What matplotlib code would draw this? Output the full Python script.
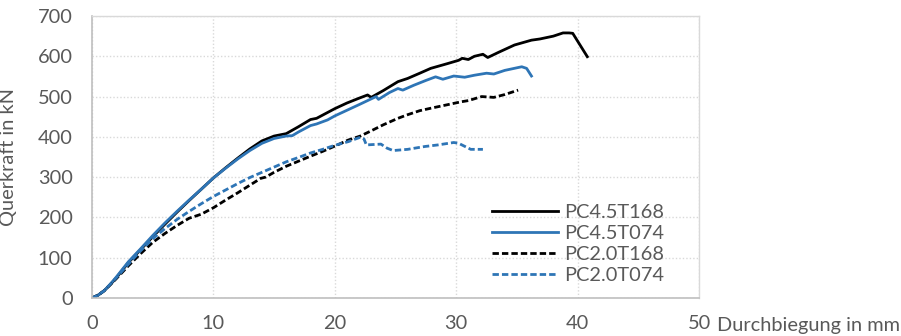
import numpy as np
import matplotlib
matplotlib.use("Agg")
import matplotlib.pyplot as plt

# --- data (deflection mm, shear force kN) ---
pc45t168_x = [0, 0.5, 1, 1.5, 2, 3, 4, 5, 6, 7, 8, 9, 10, 11, 12, 13, 14, 15, 15.5, 16,
              17, 18, 18.5, 19, 20, 21, 22, 22.7, 23.0, 24, 25.2, 26, 27, 27.9, 29.3, 30.2,
              30.5, 31, 31.5, 32.2, 32.6, 33.5, 34.8, 36.2, 36.9, 38, 38.8, 39.3, 39.6, 40.8]
pc45t168_y = [0, 7, 18, 33, 50, 88, 120, 152, 183, 213, 242, 270, 298, 323, 347, 370, 390, 402, 405, 408,
              425, 443, 446, 454, 470, 484, 496, 504, 498, 515, 537, 545, 558, 570, 582, 590,
              595, 592, 600, 605, 597, 610, 628, 640, 643, 650, 658, 658, 657, 599]

pc45t074_x = [0, 0.5, 1, 1.5, 2, 3, 4, 5, 6, 7, 8, 9, 10, 11, 12, 13, 14, 15, 16, 16.5,
              17, 18, 18.5, 19.4, 20, 21, 22, 23.4, 23.6, 24.5, 25.2, 25.6, 26.5, 27.5, 28.3,
              28.9, 29.8, 30.7, 31.5, 32.5, 33.1, 34, 35.4, 35.8, 36.2]
pc45t074_y = [0, 7, 18, 34, 52, 90, 122, 155, 186, 215, 243, 270, 298, 322, 345, 366, 384, 396, 402, 403,
              412, 428, 432, 442, 452, 466, 480, 500, 493, 510, 520, 516, 528, 540, 549,
              543, 551, 548, 553, 558, 556, 565, 574, 570, 551]

pc20t168_x = [0, 0.5, 1, 1.5, 2, 3, 4, 5, 6, 7, 8, 8.5, 9, 10, 11, 12, 13, 13.9, 14.3, 15,
              16, 17.2, 18, 19, 20, 21.1, 22.1, 23, 24, 25.2, 26, 27, 27.9, 29, 30.4, 31,
              32.1, 33.1, 34, 35.1]
pc20t168_y = [0, 7, 18, 33, 48, 80, 110, 138, 160, 180, 198, 203, 208, 224, 243, 261, 280, 297, 300, 312,
              327, 342, 352, 364, 377, 392, 402, 415, 430, 446, 455, 465, 471, 478, 487, 490,
              500, 498, 505, 516]

pc20t074_x = [0, 0.5, 1, 1.5, 2, 3, 4, 5, 6, 7, 8, 9, 10, 11, 12, 13, 14, 15, 16, 17.2,
              18, 19, 20, 21.1, 22.1, 22.4, 22.6, 23.8, 24.3, 24.8, 26, 27.4, 28.5, 29.8,
              30.2, 31.2, 32.2]
pc20t074_y = [0, 7, 18, 34, 50, 84, 117, 147, 172, 195, 215, 234, 252, 268, 284, 299, 312, 325, 338, 351,
              360, 369, 379, 388, 399, 395, 380, 382, 372, 366, 369, 376, 380, 386,
              384, 369, 369]

series = [
    ("PC4.5T168", pc45t168_x, pc45t168_y, "#000000", "-"),
    ("PC4.5T074", pc45t074_x, pc45t074_y, "#2E75B6", "-"),
    ("PC2.0T168", pc20t168_x, pc20t168_y, "#000000", "--"),
    ("PC2.0T074", pc20t074_x, pc20t074_y, "#2E75B6", "--"),
]

plt.rcParams['font.family'] = ['Lato', 'DejaVu Sans']
plt.rcParams['lines.scale_dashes'] = False
text_col = "#595959"
fs = 14.4

fig = plt.figure(figsize=(9.01, 3.36), dpi=100)
ax = fig.add_axes([92 / 901, 1 - 298 / 336, 607 / 901, 282 / 336])

for name, xs, ys, col, ls in series:
    line, = ax.plot(xs, ys, color=col, lw=2.0, label=name, solid_joinstyle='round')
    if ls == "--":
        line.set_dashes((4.6, 2.2))

ax.set_xlim(0, 50)
ax.set_ylim(0, 700)
ax.set_xticks(np.arange(0, 51, 10))
ax.set_yticks(np.arange(0, 701, 100))
ax.grid(True, color="#D9D9D9", linestyle=(0, (1, 1.5)), lw=1.0)
ax.set_axisbelow(True)
ax.tick_params(length=0, labelsize=fs, labelcolor=text_col)
ax.tick_params(axis='x', pad=12)
ax.tick_params(axis='y', pad=14)

for side in ['top', 'right']:
    ax.spines[side].set_color("#D9D9D9")
    ax.spines[side].set_linewidth(1.0)
for side in ['left', 'bottom']:
    ax.spines[side].set_color("#BFBFBF")
    ax.spines[side].set_linewidth(1.2)

ax.set_ylabel("Querkraft in kN", fontsize=fs, color=text_col)
ax.yaxis.set_label_coords(-(92 - 17) / 607, 0.5)
fig.text(717 / 901, 1 - 326 / 336, "Durchbiegung in mm", fontsize=fs,
         color=text_col, va='center', ha='left')

leg = ax.legend(loc='lower right', bbox_to_anchor=(0.965, 0.0), frameon=False,
                fontsize=fs, handlelength=3.3, handletextpad=0.3,
                labelspacing=0.2, labelcolor=text_col, borderaxespad=0.3)

fig.savefig("out.png", dpi=100)
